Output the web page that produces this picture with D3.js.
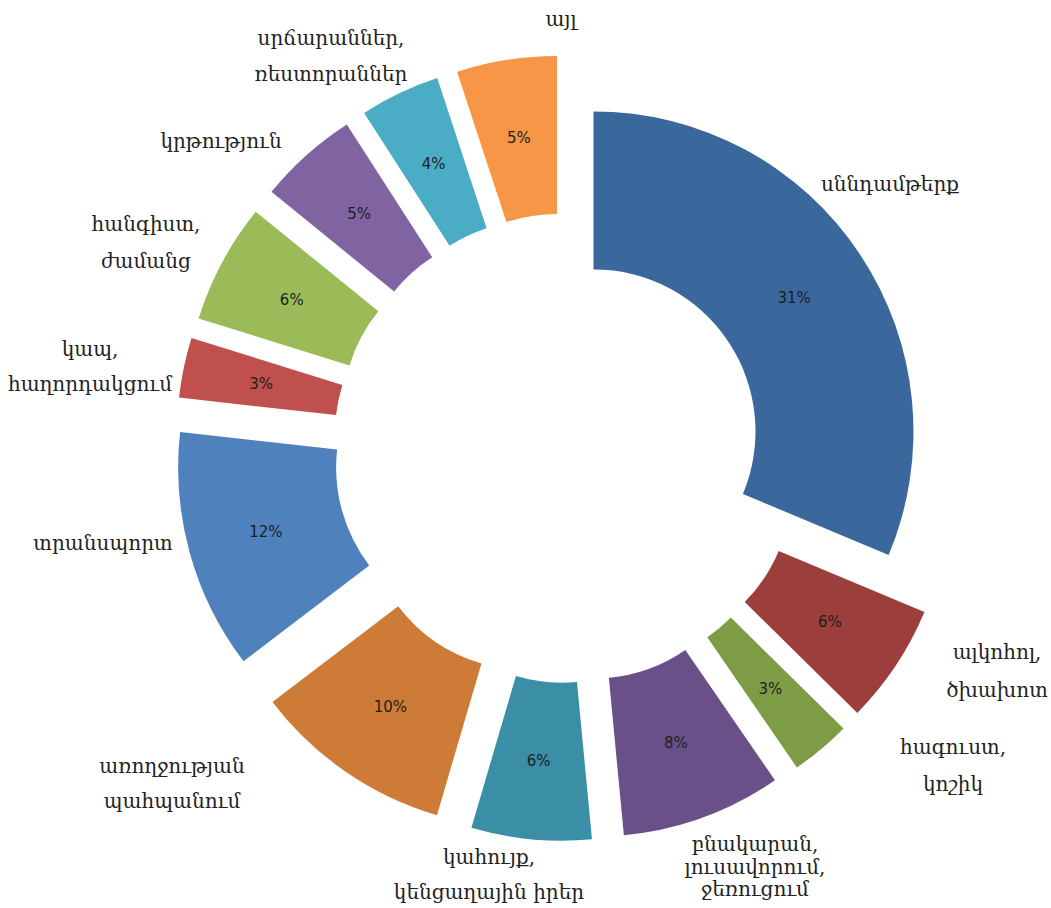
<!DOCTYPE html>
<html>
<head>
<meta charset="utf-8">
<script src="https://cdn.jsdelivr.net/npm/d3@7"></script>
<style>
  html, body { margin: 0; padding: 0; background: #ffffff; }
  svg { display: block; }
</style>
</head>
<body>
<svg id="chart" width="1051" height="908"></svg>
<script>
// Household spending structure, share of total (%)
const categories = [
  "սննդամթերք",
  "ալկոհոլ, ծխախոտ",
  "հագուստ, կոշիկ",
  "բնակարան, լուսավորում, ջեռուցում",
  "կահույք, կենցաղային իրեր",
  "առողջության պահպանում",
  "տրանսպորտ",
  "կապ, հաղորդակցում",
  "հանգիստ, ժամանց",
  "կրթություն",
  "սրճարաններ, ռեստորաններ",
  "այլ"
];
const shares = [31, 6, 3, 8, 6, 10, 12, 3, 6, 5, 4, 5];

// How each category name is broken over lines
const labelLines = [
  ["սննդամթերք"],
  ["ալկոհոլ,", "ծխախոտ"],
  ["հագուստ,", "կոշիկ"],
  ["բնակարան,", "լուսավորում,", "ջեռուցում"],
  ["կահույք,", "կենցաղային իրեր"],
  ["առողջության", "պահպանում"],
  ["տրանսպորտ"],
  ["կապ,", "հաղորդակցում"],
  ["հանգիստ,", "ժամանց"],
  ["կրթություն"],
  ["սրճարաններ,", "ռեստորաններ"],
  ["այլ"]
];

// ---- styling / layout ----
const sliceColors = [
  "#3b689c", "#9c3e3b", "#7e9c46", "#6a5089", "#3a8ea6", "#cd7b36",
  "#4f81bd", "#c0504d", "#9bbb59", "#8064a2", "#4bacc6", "#f79646"
];
const explodeBy = [30, 73, 73, 73, 73, 73, 73, 73, 73, 73, 73, 73];
const center = { x: 568.5, y: 448 };
const innerR = 162, outerR = 320;

// category name placement: [x, first-line centre y, line step]
const nameSpots = [
  [890, 185, 0],
  [997, 653, 38],
  [953, 748, 37],
  [755, 845, 22.5],
  [489, 858, 35],
  [172, 767, 35],
  [103, 544, 0],
  [90, 350, 35],
  [146, 225, 37],
  [221, 142, 0],
  [331, 39, 36],
  [561, 20, 0]
];

const svg = d3.select("#chart");

const pie = d3.pie().sort(null).value(d => d.value).startAngle(0).endAngle(2 * Math.PI);
const arc = d3.arc().innerRadius(innerR).outerRadius(outerR);
const labelArc = d3.arc().innerRadius((innerR + outerR) / 2).outerRadius((innerR + outerR) / 2);

const rows = categories.map((c, i) => ({ name: c, value: shares[i], i }));
const arcs = pie(rows);

const slices = svg.append("g")
  .attr("transform", `translate(${center.x},${center.y})`)
  .selectAll("g.slice")
  .data(arcs)
  .join("g")
  .attr("class", "slice")
  .attr("transform", d => {
    const mid = (d.startAngle + d.endAngle) / 2;
    const k = explodeBy[d.data.i];
    return `translate(${k * Math.sin(mid)},${-k * Math.cos(mid)})`;
  });

slices.append("path")
  .attr("d", arc)
  .attr("fill", d => sliceColors[d.data.i]);

slices.append("text")
  .attr("transform", d => `translate(${labelArc.centroid(d)})`)
  .attr("text-anchor", "middle")
  .attr("dominant-baseline", "central")
  .attr("font-family", "'DejaVu Sans', Verdana, sans-serif")
  .attr("font-size", 15)
  .attr("fill", "#1e1e1e")
  .text(d => d.data.value + "%");

// category names around the ring
const names = svg.append("g")
  .attr("font-family", "'DejaVu Serif', 'DejaVu Sans', serif")
  .attr("font-size", 20)
  .attr("fill", "#222222")
  .attr("text-anchor", "middle");

labelLines.forEach((lines, i) => {
  const [x, y, step] = nameSpots[i];
  const t = names.append("text");
  lines.forEach((ln, j) => {
    t.append("tspan")
      .attr("x", x)
      .attr("y", y + j * step + 6)
      .text(ln);
  });
});
</script>
</body>
</html>
